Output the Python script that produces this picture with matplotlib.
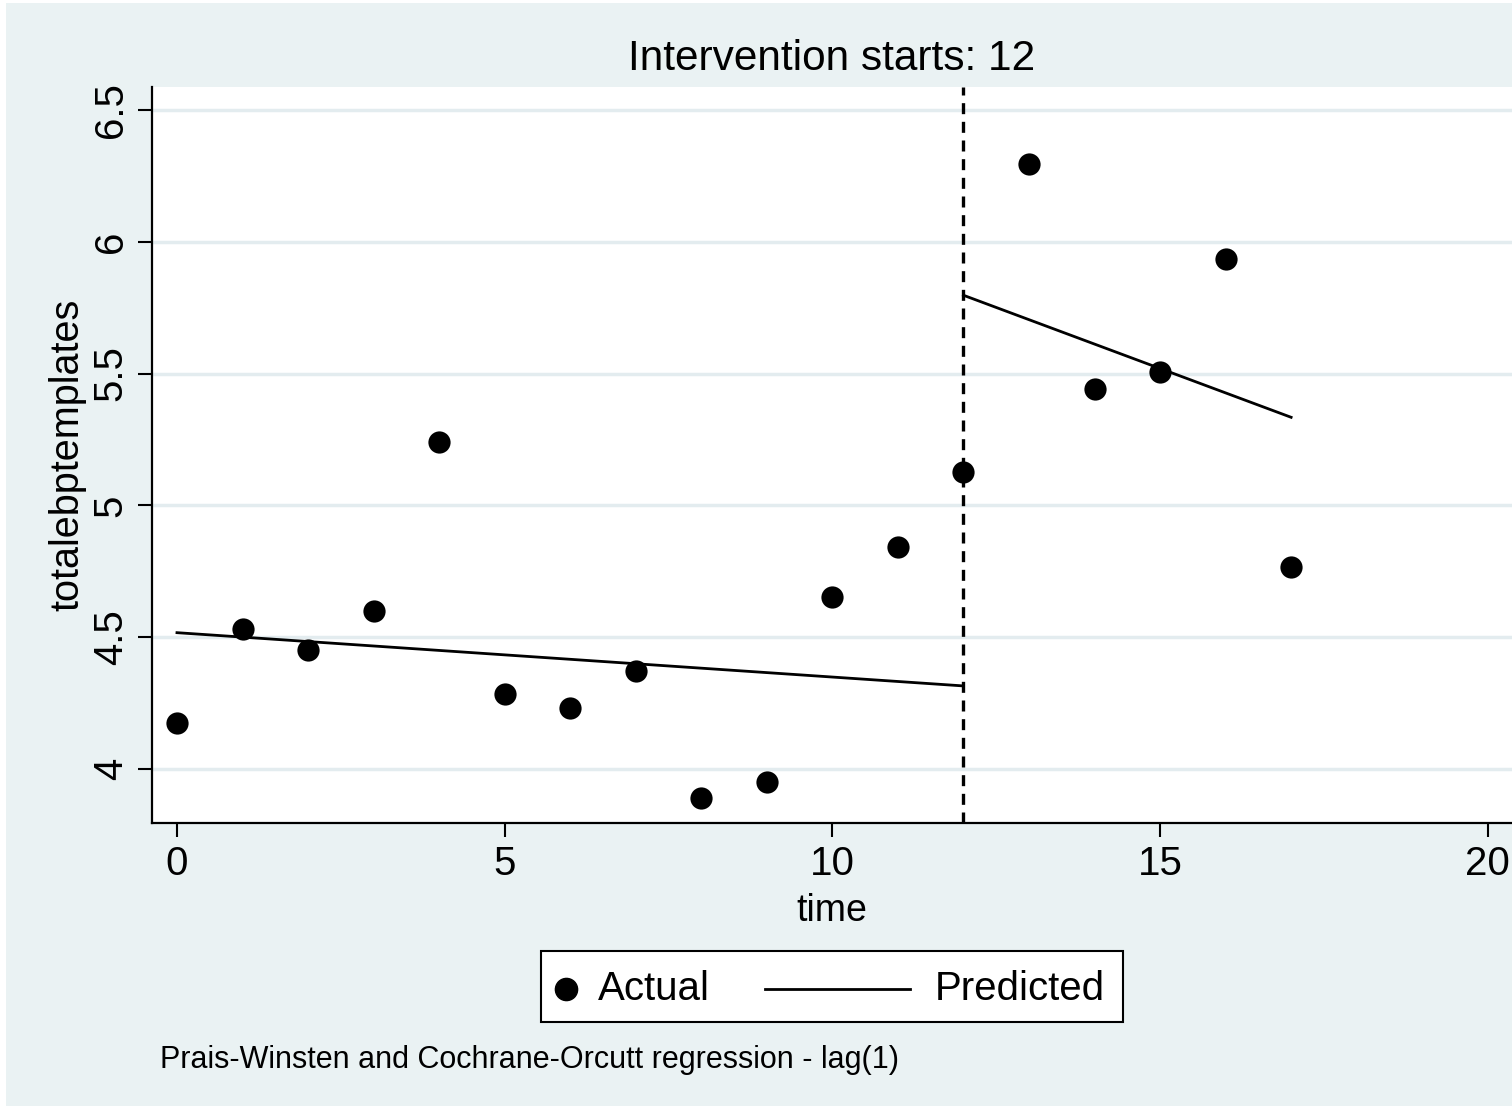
import matplotlib.pyplot as plt
from matplotlib.patches import Rectangle
from matplotlib.lines import Line2D

plt.rcParams['font.family'] = ['Liberation Sans', 'DejaVu Sans']

# data
time = [0, 1, 2, 3, 4, 5, 6, 7, 8, 9, 10, 11, 12, 13, 14, 15, 16, 17]
actual = [4.175, 4.532, 4.452, 4.600, 5.242, 4.285, 4.232, 4.372, 3.890, 3.951,
          4.653, 4.843, 5.128, 6.295, 5.440, 5.505, 5.934, 4.767]
pre_t = [0, 12]
pre_pred = [4.517, 4.315]
post_t = [12, 17]
post_pred = [5.797, 5.334]
intervention = 12
y_ticks = [4, 4.5, 5, 5.5, 6, 6.5]
y_ticklabels = ['4', '4.5', '5', '5.5', '6', '6.5']
x_ticks = [0, 5, 10, 15, 20]

W, H = 1512, 1109
bg = '#EAF2F3'
fig = plt.figure(figsize=(W / 100, H / 100), dpi=100, facecolor='white')

# outer stata-style background
fig.patches.append(Rectangle((6 / W, 0.003), 1 - 6 / W, 1 - 0.006,
                             transform=fig.transFigure, facecolor=bg,
                             edgecolor='none', zorder=-10))

ax = fig.add_axes([152 / W, (H - 823) / H, (W - 152) / W, (823 - 87) / H])
ax.set_zorder(1)
ax.set_facecolor('white')
ax.set_xlim(-0.381, 20.37)
ax.set_ylim(3.795, 6.587)

for yv in y_ticks:
    ax.axhline(yv, color='#E3ECEF', lw=2.5, zorder=1)

ax.plot(pre_t, pre_pred, color='black', lw=2.0, zorder=3)
ax.plot(post_t, post_pred, color='black', lw=2.0, zorder=3)
ax.scatter(time, actual, s=16 ** 2, color='black', zorder=4, linewidths=0)
ax.axvline(intervention, color='black', lw=2.4, ls=(0, (3.3, 2.3)), zorder=3)

for s in ['top', 'right']:
    ax.spines[s].set_visible(False)
for s in ['left', 'bottom']:
    ax.spines[s].set_linewidth(1.6)

ax.set_yticks(y_ticks)
ax.set_yticklabels(y_ticklabels, rotation=90, va='center', fontsize=29)
ax.set_xticks(x_ticks)
ax.set_xticklabels([str(x) for x in x_ticks], fontsize=29)
ax.tick_params(axis='both', length=10, width=1.5, pad=6)
ax.set_ylabel('totalebptemplates', fontsize=28.5, labelpad=4)
ax.set_xlabel('time', fontsize=27, labelpad=7)

fig.text(832 / W, 1 - 59 / H, 'Intervention starts: 12', ha='center',
         va='center', fontsize=30.5)

# legend box drawn by hand (Stata layout)
fig.patches.append(Rectangle((541 / W, 1 - 1022 / H), (1123 - 541) / W, 71 / H,
                             transform=fig.transFigure, facecolor='white',
                             edgecolor='black', lw=1.5, zorder=2))
ly = 1 - 989 / H
fig.add_artist(Line2D([566 / W], [ly], marker='o', ms=16, color='black',
                      transform=fig.transFigure, zorder=3))
fig.text(598 / W, ly, 'Actual', ha='left', va='center', fontsize=29, zorder=3)
fig.add_artist(Line2D([765 / W, 910 / W], [ly, ly], color='black', lw=2.0,
                      transform=fig.transFigure, zorder=3))
fig.text(935 / W, ly, 'Predicted', ha='left', va='center', fontsize=29, zorder=3)

fig.text(160 / W, 1 - 1060 / H,
         'Prais-Winsten and Cochrane-Orcutt regression - lag(1)',
         ha='left', va='center', fontsize=22)

fig.savefig('out.png', dpi=100, facecolor='white')
